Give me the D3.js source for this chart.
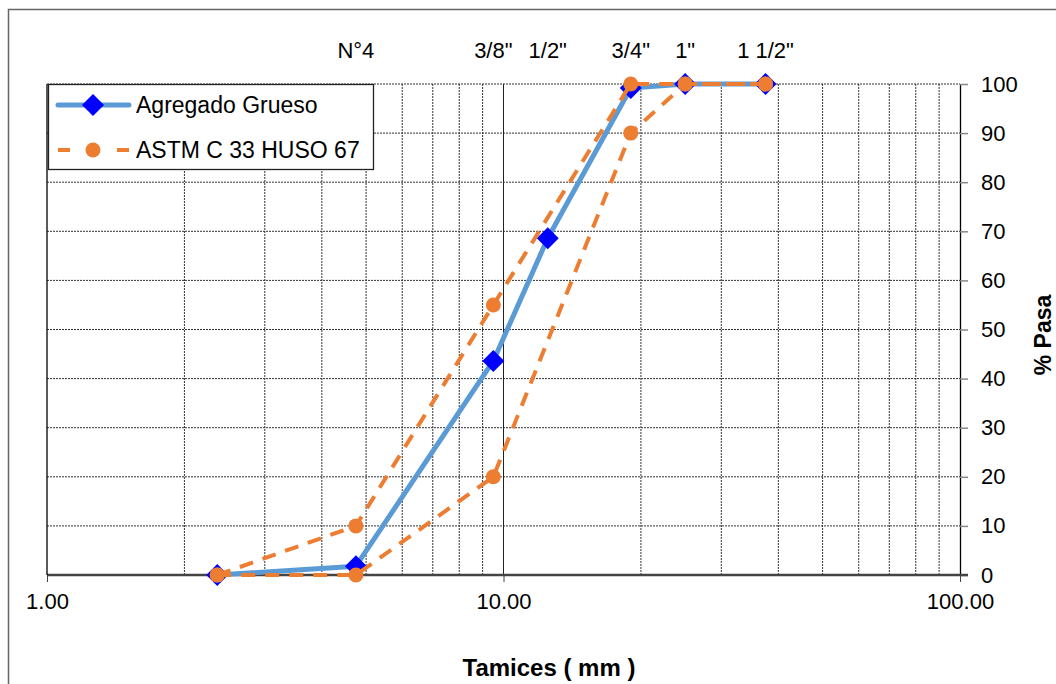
<!DOCTYPE html>
<html lang='en'>

<head>
   <meta charset='UTF-8'>
   <script src="https://cdnjs.cloudflare.com/ajax/libs/d3/7.8.5/d3.min.js"></script>
   <style>
      body {
         margin: 0;
         background: white;
      }

      svg {
         display: block;
         font-family: 'Liberation Sans', Arial, sans-serif;
      }

      .grid line {
         stroke: #333;
         stroke-width: 1;
         stroke-dasharray: 2, 1;
      }
   </style>
   <title>Curva granulometrica</title>
</head>

<body>
   <svg id='chart'></svg>

   <script>
      'use strict'

      // sieve openings (mm) and % passing
      const sieveSizes = [2.36, 4.75, 9.5, 12.5, 19, 25, 37.5]
      const gruesoPass = [0, 1.8, 43.6, 68.6, 99.2, 100, 100]

      const astmSizes = [2.36, 4.75, 9.5, 19, 25, 37.5]
      const astmLower = [0, 0, 20, 90, 100, 100]
      const astmUpper = [0, 10, 55, 100, 100, 100]

      const sieveNames = ['N°4', '3/8"', '1/2"', '3/4"', '1"', '1 1/2"']
      const sieveNameSizes = [4.75, 9.5, 12.5, 19, 25, 37.5]

      const yTicks = [0, 10, 20, 30, 40, 50, 60, 70, 80, 90, 100]
      const xTicks = [1, 10, 100]
      const xMinor = [2, 3, 4, 5, 6, 7, 8, 9, 20, 30, 40, 50, 60, 70, 80, 90]

      const width = 1056,
         height = 684

      const svg = d3.select('svg')
         .attr('width', width)
         .attr('height', height)

      // outer chart border
      svg.append('rect')
         .attr('x', 8.5).attr('y', 9.5)
         .attr('width', 1100).attr('height', 700)
         .attr('fill', 'white')
         .attr('stroke', '#666')
         .attr('stroke-width', 1.5)

      const x = d3.scaleLog([1, 100], [47, 960])
      const y = d3.scaleLinear([0, 100], [575, 84])

      // grid
      const grid = svg.append('g').attr('class', 'grid')
      grid.selectAll('.hl')
         .data(yTicks.slice(1))
         .enter().append('line')
         .attr('x1', x(1)).attr('x2', x(100))
         .attr('y1', d => y(d)).attr('y2', d => y(d))
      grid.selectAll('.vl')
         .data(xMinor)
         .enter().append('line')
         .attr('x1', d => x(d)).attr('x2', d => x(d))
         .attr('y1', y(0)).attr('y2', y(100))

      svg.append('line')
         .attr('x1', x(10)).attr('x2', x(10))
         .attr('y1', y(0)).attr('y2', y(100))
         .attr('stroke', '#222')

      // right y axis
      const yAxis = svg.append('g')
         .attr('transform', `translate(${x(100)},0)`)
         .call(d3.axisRight(y).tickValues(yTicks).tickSize(8).tickSizeOuter(0).tickPadding(13))
      yAxis.select('.domain').attr('stroke', '#000').attr('stroke-width', 1.3)
      yAxis.selectAll('.tick line').attr('stroke', '#888').attr('stroke-width', 1.5)
      yAxis.selectAll('text')
         .attr('font-size', 22)
         .attr('font-family', "'Liberation Sans', Arial, sans-serif")
         .attr('fill', '#000')

      // bottom x axis
      const xAxis = svg.append('g')
         .attr('transform', `translate(0,${y(0)})`)
         .call(d3.axisBottom(x).tickValues(xTicks).tickFormat(d3.format('.2f'))
            .tickSize(7).tickSizeOuter(0).tickPadding(11))
      xAxis.select('.domain').remove()
      xAxis.selectAll('.tick line').attr('stroke', '#444')
      xAxis.selectAll('text')
         .attr('font-size', 22)
         .attr('font-family', "'Liberation Sans', Arial, sans-serif")
         .attr('fill', '#000')

      svg.append('line')
         .attr('x1', x(1)).attr('x2', x(100) + 8)
         .attr('y1', y(0)).attr('y2', y(0))
         .attr('stroke', '#444').attr('stroke-width', 2.5)

      svg.append('line')
         .attr('x1', x(1)).attr('x2', x(1))
         .attr('y1', y(100)).attr('y2', y(0))
         .attr('stroke', '#000').attr('stroke-width', 1.3)

      // sieve names across the top
      svg.selectAll('.sieve')
         .data(sieveNames)
         .enter().append('text')
         .attr('x', (d, i) => x(sieveNameSizes[i]))
         .attr('y', 58)
         .attr('text-anchor', 'middle')
         .attr('font-size', 22)
         .text(d => d)

      // series
      const lineGen = (sizes) => d3.line()
         .x((d, i) => x(sizes[i]))
         .y(d => y(d))

      const diamond = 'M0,-11L11,0L0,11L-11,0Z'

      svg.append('path')
         .datum(gruesoPass)
         .attr('d', lineGen(sieveSizes))
         .attr('fill', 'none')
         .attr('stroke', '#5B9BD5')
         .attr('stroke-width', 5)
         .attr('stroke-linejoin', 'round')

      svg.selectAll('.dia')
         .data(gruesoPass)
         .enter().append('path')
         .attr('d', diamond)
         .attr('transform', (d, i) => `translate(${x(sieveSizes[i])},${y(d)})`)
         .attr('fill', '#0000FF')

      ;[astmLower, astmUpper].forEach(series => {
         svg.append('path')
            .datum(series)
            .attr('d', lineGen(astmSizes))
            .attr('fill', 'none')
            .attr('stroke', '#ED7D31')
            .attr('stroke-width', 4)
            .attr('stroke-dasharray', '14,10')

         svg.append('g').selectAll('circle')
            .data(series)
            .enter().append('circle')
            .attr('cx', (d, i) => x(astmSizes[i]))
            .attr('cy', d => y(d))
            .attr('r', 7.5)
            .attr('fill', '#ED7D31')
      })

      // legend
      const legend = svg.append('g')
      legend.append('rect')
         .attr('x', 48.5).attr('y', 84.5)
         .attr('width', 325).attr('height', 85)
         .attr('fill', 'white')
         .attr('stroke', '#222')
         .attr('stroke-width', 1.3)

      legend.append('line')
         .attr('x1', 58).attr('x2', 129).attr('y1', 105).attr('y2', 105)
         .attr('stroke', '#5B9BD5').attr('stroke-width', 5).attr('stroke-linecap', 'round')
      legend.append('path')
         .attr('d', diamond)
         .attr('transform', 'translate(93,105)')
         .attr('fill', '#0000FF')
      legend.append('text')
         .attr('x', 136).attr('y', 113)
         .attr('font-size', 23)
         .text('Agregado Grueso')

      legend.append('line')
         .attr('x1', 58).attr('x2', 129).attr('y1', 150).attr('y2', 150)
         .attr('stroke', '#ED7D31').attr('stroke-width', 4)
         .attr('stroke-dasharray', '12,47')
      legend.append('circle')
         .attr('cx', 93).attr('cy', 150).attr('r', 7.5)
         .attr('fill', '#ED7D31')
      legend.append('text')
         .attr('x', 136).attr('y', 158)
         .attr('font-size', 23)
         .text('ASTM C 33 HUSO 67')

      // axis titles
      svg.append('text')
         .attr('x', 549).attr('y', 676)
         .attr('text-anchor', 'middle')
         .attr('font-size', 24)
         .attr('font-weight', 'bold')
         .text('Tamices ( mm )')

      svg.append('text')
         .attr('transform', 'translate(1051,335) rotate(-90)')
         .attr('text-anchor', 'middle')
         .attr('font-size', 23)
         .attr('font-weight', 'bold')
         .text('% Pasa')
   </script>
</body>

</html>
